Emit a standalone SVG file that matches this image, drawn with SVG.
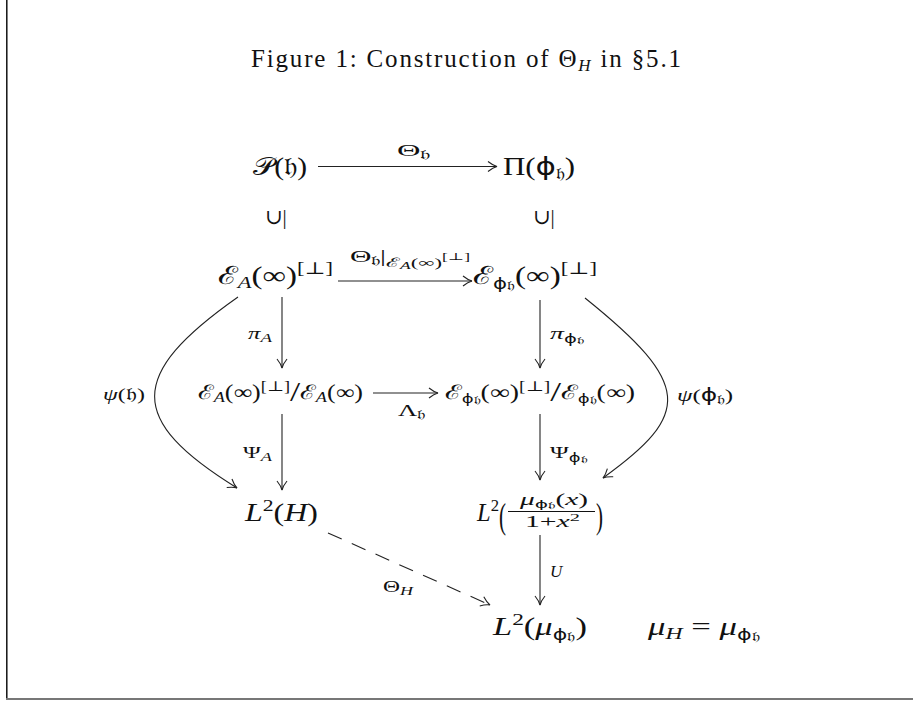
<svg xmlns="http://www.w3.org/2000/svg" width="913" height="702" viewBox="0 0 913 702">
<style>
  .t { font-family: "Liberation Serif", "DejaVu Serif", serif; fill: #111; }
  .m { font-size: 25px; }
  .l { font-size: 17px; }
  .i { font-style: italic; }
  .sf { font-family: "DejaVu Sans", sans-serif; }
  .edge { fill: none; stroke: #222; stroke-width: 1.1; }
</style>
<defs>
  <marker id="ah" viewBox="-10 -6 12 12" refX="0" refY="0" markerWidth="12" markerHeight="12" markerUnits="userSpaceOnUse" orient="auto" overflow="visible">
    <path d="M-9,-5 Q-4,-1 0,0 Q-4,1 -9,5" fill="none" stroke="#222" stroke-width="1.1"/>
  </marker>
</defs>
<rect width="913" height="702" fill="#fff"/>
<g id="frame">
  <line x1="6.8" y1="0" x2="6.8" y2="699" stroke="#111" stroke-width="1.5"/>
  <line x1="6" y1="699" x2="913" y2="699" stroke="#777" stroke-width="2"/>
</g>
<text id="title" class="t" x="251" y="67" font-size="25" textLength="430" lengthAdjust="spacing">Figure 1: Construction of Θ<tspan class="i" font-size="17" dy="4">H</tspan><tspan dy="-4"> in §5.1</tspan></text>

<g id="connectors">
  <path class="edge" d="M318,166.5 H497" marker-end="url(#ah)"/>
  <path class="edge" d="M338,281 H472" marker-end="url(#ah)"/>
  <path class="edge" d="M282,297 V368" marker-end="url(#ah)"/>
  <path class="edge" d="M540,300 V368" marker-end="url(#ah)"/>
  <path class="edge" d="M373,393 H438" marker-end="url(#ah)"/>
  <path class="edge" d="M282,414 V490" marker-end="url(#ah)"/>
  <path class="edge" d="M540,414 V480" marker-end="url(#ah)"/>
  <path class="edge" d="M540,535 V605" marker-end="url(#ah)"/>
  <path class="edge" d="M238,297 C127,375 127,420 237,488" marker-end="url(#ah)"/>
  <path class="edge" d="M585,298 C692,384 692,414 603,478" marker-end="url(#ah)"/>
  <path class="edge" d="M328,533 L490,605" stroke-dasharray="15 11" marker-end="url(#ah)"/>
</g>

<g id="labels">
  <text class="t l" x="397" y="156" textLength="33" lengthAdjust="spacingAndGlyphs">Θ<tspan font-size="12" dy="3">𝔥</tspan></text>
  <text class="t l" x="350" y="262" textLength="120" lengthAdjust="spacingAndGlyphs">Θ<tspan font-size="12" dy="3">𝔥</tspan><tspan dy="-3">|</tspan><tspan font-size="13" dy="5">ℰ<tspan class="i" font-size="10" dy="2">A</tspan><tspan dy="-2">(∞)</tspan><tspan font-size="10" dy="-7">[⊥]</tspan></tspan></text>
  <text class="t l" x="248" y="339" textLength="24" lengthAdjust="spacingAndGlyphs"><tspan class="i">π</tspan><tspan class="i" font-size="13" dy="3">A</tspan></text>
  <text class="t l" x="550" y="339" textLength="35" lengthAdjust="spacingAndGlyphs"><tspan class="i">π</tspan><tspan class="sf" font-size="12" dy="4">ϕ</tspan><tspan font-size="10" dy="1">𝔥</tspan></text>
  <text class="t l" x="398" y="416" textLength="27" lengthAdjust="spacingAndGlyphs">Λ<tspan font-size="12" dy="3">𝔥</tspan></text>
  <text class="t l" x="103" y="400" textLength="42" lengthAdjust="spacingAndGlyphs"><tspan class="i">ψ</tspan>(𝔥)</text>
  <text class="t l" x="677" y="401" textLength="56" lengthAdjust="spacingAndGlyphs"><tspan class="i">ψ</tspan>(<tspan class="sf">ϕ</tspan><tspan font-size="12" dy="3">𝔥</tspan><tspan dy="-3">)</tspan></text>
  <text class="t l" x="243" y="458" textLength="29" lengthAdjust="spacingAndGlyphs">Ψ<tspan class="i" font-size="13" dy="3">A</tspan></text>
  <text class="t l" x="550" y="458" textLength="38" lengthAdjust="spacingAndGlyphs">Ψ<tspan class="sf" font-size="12" dy="4">ϕ</tspan><tspan font-size="10" dy="1">𝔥</tspan></text>
  <text class="t l i" x="550" y="577">U</text>
  <text class="t l" x="383" y="592" textLength="30" lengthAdjust="spacingAndGlyphs">Θ<tspan class="i" font-size="13" dy="3">H</tspan></text>
</g>

<g id="n-P">
  <text class="t m" x="253" y="175" textLength="54" lengthAdjust="spacingAndGlyphs">𝒫(𝔥)</text>
</g>
<g id="n-Pi">
  <text class="t m" x="503" y="175" textLength="72" lengthAdjust="spacingAndGlyphs">Π(<tspan class="sf">ϕ</tspan><tspan font-size="16" dy="4">𝔥</tspan><tspan dy="-4">)</tspan></text>
</g>
<g id="sub1">
  <text class="t" x="265" y="224" font-size="21" font-family="DejaVu Sans">∪|</text>
</g>
<g id="sub2">
  <text class="t" x="533" y="224" font-size="21" font-family="DejaVu Sans">∪|</text>
</g>
<g id="n-EA">
  <text class="t m" x="218" y="284" textLength="115" lengthAdjust="spacingAndGlyphs">ℰ<tspan class="i" font-size="17" dy="4">A</tspan><tspan dy="-4">(∞)</tspan><tspan font-size="17" dy="-10">[⊥]</tspan></text>
</g>
<g id="n-Ephi">
  <text class="t m" x="473" y="284" textLength="124" lengthAdjust="spacingAndGlyphs">ℰ<tspan class="sf" font-size="16" dy="5">ϕ</tspan><tspan font-size="13" dy="1">𝔥</tspan><tspan dy="-6">(∞)</tspan><tspan font-size="17" dy="-10">[⊥]</tspan></text>
</g>
<g id="n-QA">
  <text class="t" x="198" y="399" font-size="20" textLength="165" lengthAdjust="spacingAndGlyphs">ℰ<tspan class="i" font-size="14" dy="3">A</tspan><tspan dy="-3">(∞)</tspan><tspan font-size="14" dy="-8">[⊥]</tspan><tspan font-size="28" dy="10">/</tspan><tspan dy="-2">ℰ</tspan><tspan class="i" font-size="14" dy="3">A</tspan><tspan dy="-3">(∞)</tspan></text>
</g>
<g id="n-Qphi">
  <text class="t" x="445" y="399" font-size="20" textLength="190" lengthAdjust="spacingAndGlyphs">ℰ<tspan class="sf" font-size="13" dy="4">ϕ</tspan><tspan font-size="11" dy="1">𝔥</tspan><tspan dy="-5">(∞)</tspan><tspan font-size="14" dy="-8">[⊥]</tspan><tspan font-size="28" dy="10">/</tspan><tspan dy="-2">ℰ</tspan><tspan class="sf" font-size="13" dy="4">ϕ</tspan><tspan font-size="11" dy="1">𝔥</tspan><tspan dy="-5">(∞)</tspan></text>
</g>
<g id="n-L2H">
  <text class="t m" x="245" y="521" textLength="73" lengthAdjust="spacingAndGlyphs"><tspan class="i">L</tspan><tspan font-size="17" dy="-10">2</tspan><tspan dy="10">(</tspan><tspan class="i">H</tspan>)</text>
</g>
<g id="n-L2frac">
  <text class="t m" x="477" y="521" textLength="22" lengthAdjust="spacingAndGlyphs"><tspan class="i">L</tspan><tspan font-size="17" dy="-10">2</tspan></text>
  <text class="t" x="499" y="528" font-size="30" transform="translate(499 528) scale(0.7 1.2) translate(-499 -528)">(</text>
  <text class="t" x="520" y="505" font-size="16" textLength="68" lengthAdjust="spacingAndGlyphs"><tspan class="i">μ</tspan><tspan class="sf" font-size="11" dy="3">ϕ</tspan><tspan font-size="9" dy="1">𝔥</tspan><tspan dy="-4">(</tspan><tspan class="i">x</tspan>)</text>
  <line x1="508" y1="511.5" x2="595" y2="511.5" stroke="#111" stroke-width="1"/>
  <text class="t" x="525" y="527" font-size="16" textLength="55" lengthAdjust="spacingAndGlyphs">1+<tspan class="i">x</tspan><tspan font-size="11" dy="-6">2</tspan></text>
  <text class="t" x="596" y="528" font-size="30" transform="translate(596 528) scale(0.7 1.2) translate(-596 -528)">)</text>
</g>
<g id="n-L2mu">
  <text class="t m" x="493" y="635" textLength="94" lengthAdjust="spacingAndGlyphs"><tspan class="i">L</tspan><tspan font-size="17" dy="-10">2</tspan><tspan dy="10">(</tspan><tspan class="i">μ</tspan><tspan class="sf" font-size="16" dy="5">ϕ</tspan><tspan font-size="13" dy="1">𝔥</tspan><tspan dy="-6">)</tspan></text>
</g>
<g id="n-eq">
  <text class="t m" x="648" y="635" textLength="112" lengthAdjust="spacingAndGlyphs"><tspan class="i">μ</tspan><tspan class="i" font-size="17" dy="4">H</tspan><tspan dy="-4"> = </tspan><tspan class="i">μ</tspan><tspan class="sf" font-size="16" dy="5">ϕ</tspan><tspan font-size="13" dy="1">𝔥</tspan></text>
</g>
</svg>
